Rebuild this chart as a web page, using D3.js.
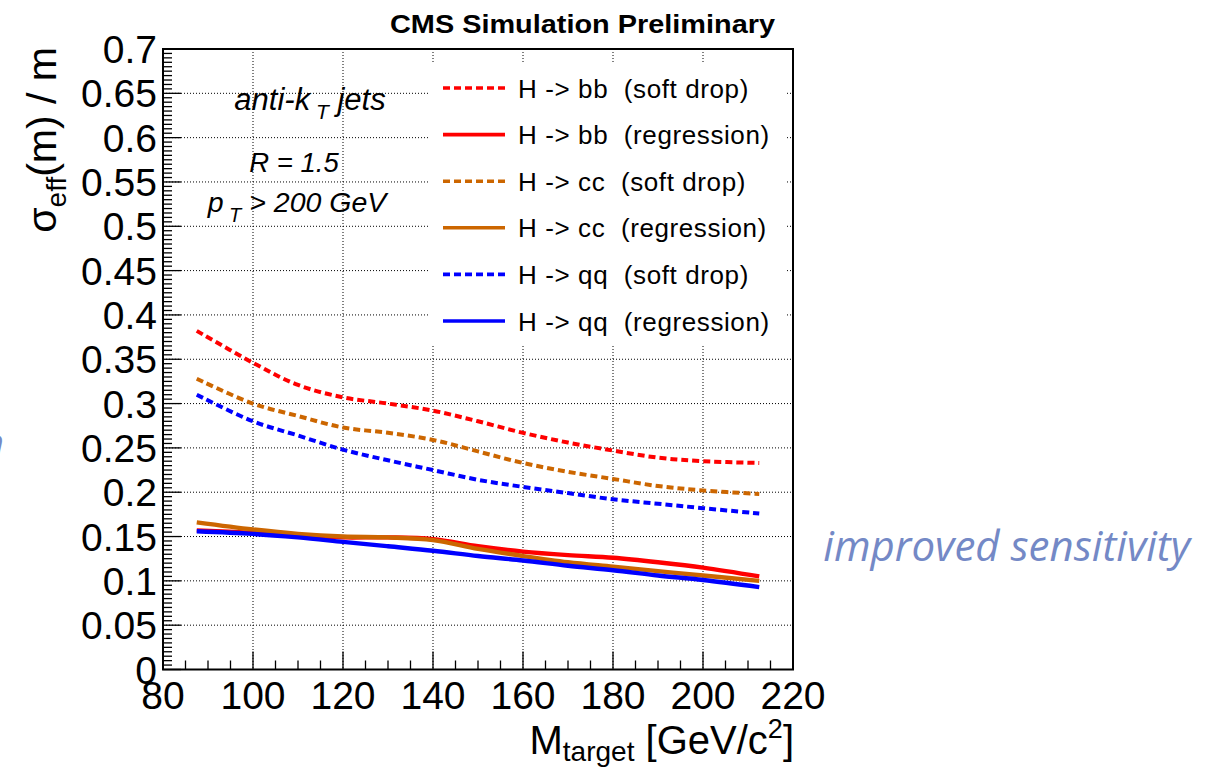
<!DOCTYPE html>
<meta charset="utf-8">
<head>
    <script type="text/javascript" src="https://d3js.org/d3.v7.min.js"></script>
    <style>
        body { margin: 0; background: #fff; }
        text { font-family: "Liberation Sans", Arial, sans-serif; }
    </style>
    <title>sigma_eff / m vs M_target</title>
</head>
<body>
    <script>
        // plot frame (pixels)
        var margin = {top: 49, right: 416, bottom: 99.5, left: 163};
        var W = 1209, H = 769;
        var width = W - margin.left - margin.right;
        var height = H - margin.top - margin.bottom;

        // data
        var masses = [87.5, 100, 110, 120, 130, 140, 150, 160, 170, 180, 190, 200, 212.5];
        var bbSoftDrop = [0.382, 0.346, 0.321, 0.307, 0.300, 0.292, 0.280, 0.267, 0.256, 0.247, 0.239, 0.235, 0.233];
        var bbRegression = [0.157, 0.154, 0.151, 0.149, 0.149, 0.147, 0.139, 0.133, 0.129, 0.126, 0.121, 0.115, 0.105];
        var ccSoftDrop = [0.328, 0.300, 0.286, 0.273, 0.267, 0.259, 0.246, 0.233, 0.223, 0.215, 0.207, 0.202, 0.198];
        var ccRegression = [0.166, 0.158, 0.153, 0.150, 0.149, 0.146, 0.136, 0.128, 0.121, 0.116, 0.111, 0.106, 0.100];
        var qqSoftDrop = [0.310, 0.280, 0.264, 0.248, 0.236, 0.225, 0.214, 0.206, 0.199, 0.192, 0.187, 0.182, 0.176];
        var qqRegression = [0.156, 0.153, 0.149, 0.144, 0.139, 0.134, 0.128, 0.123, 0.117, 0.112, 0.106, 0.101, 0.093];

        var seriesNames = ["H -> bb  (soft drop)", "H -> bb  (regression)", "H -> cc  (soft drop)",
                           "H -> cc  (regression)", "H -> qq  (soft drop)", "H -> qq  (regression)"];
        var seriesValues = [bbSoftDrop, bbRegression, ccSoftDrop, ccRegression, qqSoftDrop, qqRegression];
        var seriesColors = ["#ff0000", "#ff0000", "#cc6600", "#cc6600", "#0000ff", "#0000ff"];
        var seriesDashed = [true, false, true, false, true, false];

        var xTicks = [80, 100, 120, 140, 160, 180, 200, 220];
        var yTicks = d3.range(0, 0.7001, 0.05);

        var svg = d3.select("body").append("svg")
            .attr("width", W)
            .attr("height", H);
        var g = svg.append("g")
            .attr("transform", "translate(" + margin.left + "," + margin.top + ")");

        var x = d3.scaleLinear().domain([80, 220]).range([0, width]);
        var y = d3.scaleLinear().domain([0, 0.7]).range([height, 0]);

        // grid
        g.append("g").selectAll("line")
            .data(xTicks.slice(1))
            .enter().append("line")
            .attr("x1", d => x(d)).attr("x2", d => x(d))
            .attr("y1", 0).attr("y2", height)
            .attr("stroke", "#000").attr("stroke-width", 1)
            .attr("stroke-dasharray", "1,2");
        g.append("g").selectAll("line")
            .data(yTicks.slice(1))
            .enter().append("line")
            .attr("x1", 0).attr("x2", width)
            .attr("y1", d => y(d)).attr("y2", d => y(d))
            .attr("stroke", "#000").attr("stroke-width", 1)
            .attr("stroke-dasharray", "1,2");

        // legend box (white, hides grid)
        var legX = 430 - margin.left, legY = 62 - margin.top;
        g.append("rect")
            .attr("x", legX).attr("y", legY)
            .attr("width", 357).attr("height", 283)
            .attr("fill", "#fff");

        // curves
        var line = d3.line()
            .x((d, i) => x(masses[i]))
            .y(d => y(d))
            .curve(d3.curveCatmullRom.alpha(0.5));

        seriesValues.forEach(function(vals, i) {
            g.append("path")
                .datum(vals)
                .attr("d", line)
                .attr("fill", "none")
                .attr("stroke", seriesColors[i])
                .attr("stroke-width", seriesDashed[i] ? 4 : 4.4)
                .attr("stroke-dasharray", seriesDashed[i] ? "7,4" : null);
        });

        // axes: ticks
        var xMinor = d3.range(80, 220.01, 5);
        g.append("g").selectAll("line")
            .data(xMinor)
            .enter().append("line")
            .attr("x1", d => x(d)).attr("x2", d => x(d))
            .attr("y1", height)
            .attr("y2", d => height - (d % 20 === 0 ? 18 : 9))
            .attr("stroke", "#000").attr("stroke-width", 1.3);
        var yMinor = d3.range(0, 0.7001, 0.005);
        g.append("g").selectAll("line")
            .data(yMinor)
            .enter().append("line")
            .attr("x1", 0)
            .attr("x2", (d, i) => i % 10 === 0 ? 18 : 9)
            .attr("y1", d => y(d)).attr("y2", d => y(d))
            .attr("stroke", "#000").attr("stroke-width", 1.3);

        // frame
        g.append("rect")
            .attr("x", 0).attr("y", 0)
            .attr("width", width).attr("height", height)
            .attr("fill", "none")
            .attr("stroke", "#000").attr("stroke-width", 2);

        // tick labels
        g.append("g").selectAll("text")
            .data(yTicks)
            .enter().append("text")
            .attr("x", -6)
            .attr("y", d => y(d) + 14)
            .attr("text-anchor", "end")
            .style("font-size", "39px")
            .text(d => String(+d.toFixed(2)));
        g.append("g").selectAll("text")
            .data(xTicks)
            .enter().append("text")
            .attr("x", d => x(d))
            .attr("y", height + 39)
            .attr("text-anchor", "middle")
            .style("font-size", "39px")
            .text(d => d);

        // axis titles
        var yt = svg.append("text")
            .attr("transform", "translate(56,47) rotate(-90)")
            .attr("text-anchor", "end")
            .style("font-size", "41px");
        yt.append("tspan").text("σ");
        yt.append("tspan").attr("dy", 10).style("font-size", "28px").text("eff");
        yt.append("tspan").attr("dy", -10).text("(m) / m");

        var xt = svg.append("text")
            .attr("x", 794).attr("y", 754)
            .attr("text-anchor", "end")
            .style("font-size", "40px");
        xt.append("tspan").text("M");
        xt.append("tspan").attr("dy", 7).style("font-size", "28px").text("target");
        xt.append("tspan").attr("dy", -7).text(" [GeV/c");
        xt.append("tspan").attr("dy", -16).style("font-size", "27px").text("2");
        xt.append("tspan").attr("dy", 16).text("]");

        // header
        svg.append("text")
            .attr("x", 775).attr("y", 33)
            .attr("text-anchor", "end")
            .attr("textLength", 385)
            .attr("lengthAdjust", "spacingAndGlyphs")
            .style("font-size", "26px")
            .style("font-weight", "bold")
            .text("CMS Simulation Preliminary");

        // jet labels
        var t1 = svg.append("text")
            .attr("x", 310).attr("y", 110)
            .attr("text-anchor", "middle")
            .style("font-size", "31px").style("font-style", "italic");
        t1.append("tspan").text("anti-k");
        t1.append("tspan").attr("dy", 9).style("font-size", "21px").text(" T");
        t1.append("tspan").attr("dy", -9).text(" jets");

        svg.append("text")
            .attr("x", 294).attr("y", 172)
            .attr("text-anchor", "middle")
            .style("font-size", "27.5px").style("font-style", "italic")
            .text("R = 1.5");

        var t3 = svg.append("text")
            .attr("x", 297).attr("y", 212)
            .attr("text-anchor", "middle")
            .style("font-size", "28.5px").style("font-style", "italic");
        t3.append("tspan").text("p");
        t3.append("tspan").attr("dy", 10).style("font-size", "20px").text(" T");
        t3.append("tspan").attr("dy", -10).text(" > 200 GeV");

        // legend entries
        var rowY = d3.scaleLinear().domain([0, 5]).range([88, 321]);
        var leg = svg.append("g");
        seriesNames.forEach(function(name, i) {
            leg.append("line")
                .attr("x1", 443).attr("x2", 505)
                .attr("y1", rowY(i)).attr("y2", rowY(i))
                .attr("stroke", seriesColors[i])
                .attr("stroke-width", 3.6)
                .attr("stroke-dasharray", seriesDashed[i] ? "7,4" : null);
            leg.append("text")
                .attr("x", 518).attr("y", rowY(i) + 9.5)
                .style("font-size", "26px")
                .style("letter-spacing", "0.6px")
                .style("white-space", "pre")
                .text(name);
        });

        // slide text around the plot
        svg.append("text")
            .attr("x", 1190).attr("y", 561)
            .attr("text-anchor", "end")
            .style("font-family", "'Open Sans', sans-serif")
            .style("font-style", "italic")
            .style("font-size", "42px")
            .style("fill", "#7489c6")
            .text("improved sensitivity");
        svg.append("text")
            .attr("x", 4).attr("y", 457)
            .attr("text-anchor", "end")
            .style("font-family", "'Open Sans', sans-serif")
            .style("font-style", "italic")
            .style("font-size", "40px")
            .style("fill", "#7489c6")
            .text("n");
    </script>
</body>
